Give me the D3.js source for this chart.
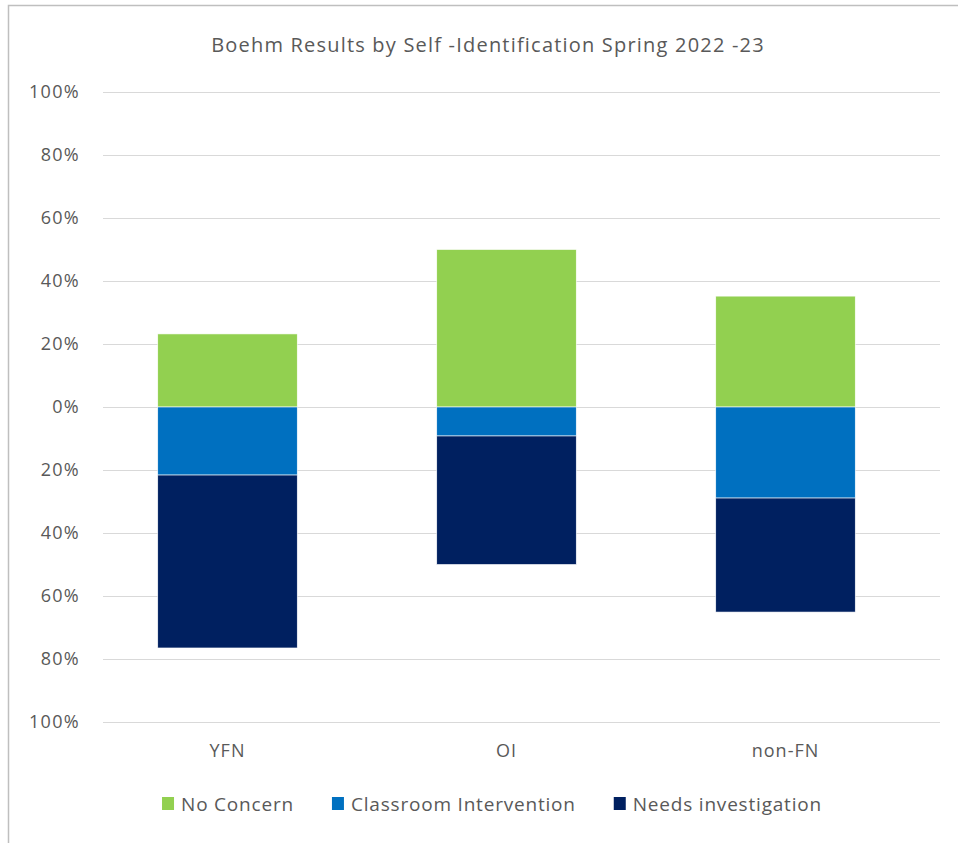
<!DOCTYPE html>
<html>
<head>
<meta charset="utf-8">
<title>Boehm Results</title>
<script src="https://d3js.org/d3.v7.min.js"></script>
<style>
  body { margin: 0; background: #fff; font-family: "Open Sans", "Noto Sans", sans-serif; }
  svg { display: block; }
</style>
</head>
<body>
<script>
// data (percent)
var categories = ["YFN", "OI", "non-FN"];
var seriesNames = ["No Concern", "Classroom Intervention", "Needs investigation"];
var seriesColors = ["#92d050", "#0070c0", "#002060"];
var noConcern = [23.2, 50, 35.2];
var classroomIntervention = [21.6, 9.2, 28.9];
var needsInvestigation = [54.9, 40.8, 36.2];
var tickValues = [100, 80, 60, 40, 20, 0, -20, -40, -60, -80, -100];

var W = 958, H = 843;
var margin = { top: 92, left: 103, right: 18, bottom: 121 };
var textColor = "#595959";

var svg = d3.select("body").append("svg")
    .attr("width", W)
    .attr("height", H);

// chart frame (cropped on right/bottom)
svg.append("rect")
    .attr("x", 8.5).attr("y", 5.5)
    .attr("width", W + 20).attr("height", H + 20)
    .attr("fill", "none")
    .attr("stroke", "#bfbfbf")
    .attr("stroke-width", 1.5);

// band scale: bars centred at ~227, 507, 785
var x = d3.scaleBand()
    .domain(categories)
    .range([88, 925])
    .paddingInner(0.5)
    .paddingOuter(0.25);

var y = d3.scaleLinear()
    .domain([100, -100])
    .range([margin.top, H - margin.bottom]);

// gridlines
svg.append("g")
    .selectAll("line")
    .data(tickValues)
    .enter().append("line")
    .attr("x1", margin.left)
    .attr("x2", W - margin.right)
    .attr("y1", function (d) { return Math.round(y(d)) + 0.5; })
    .attr("y2", function (d) { return Math.round(y(d)) + 0.5; })
    .attr("stroke", "#d9d9d9")
    .attr("stroke-width", 1);

// y axis labels (absolute values)
var yAxis = svg.append("g")
    .attr("transform", "translate(80,0)")
    .call(d3.axisLeft(y).tickValues(tickValues).tickSize(0).tickPadding(0)
        .tickFormat(function (d) { return Math.abs(d) + "%"; }));
yAxis.select(".domain").remove();
yAxis.selectAll("text")
    .attr("fill", textColor)
    .attr("font-size", "18px")
    .attr("letter-spacing", "1.3px")
    .attr("font-family", "'Open Sans', sans-serif");

// x axis labels
var xAxis = svg.append("g")
    .attr("transform", "translate(0," + (y(-100) + 22) + ")")
    .call(d3.axisBottom(x).tickSize(0).tickPadding(0));
xAxis.select(".domain").remove();
xAxis.selectAll("text")
    .attr("fill", textColor)
    .attr("font-size", "18px")
    .attr("letter-spacing", "1px")
    .attr("font-family", "'Open Sans', sans-serif");

// stacked segments: green above zero, blue then navy below zero
var rows = categories.map(function (c, i) {
    return { cat: c, segs: [
        { s: 0, y0: 0, y1: noConcern[i] },
        { s: 1, y0: 0, y1: -classroomIntervention[i] },
        { s: 2, y0: -classroomIntervention[i], y1: -classroomIntervention[i] - needsInvestigation[i] }
    ] };
});

svg.append("g")
    .selectAll("g")
    .data(rows)
    .enter().append("g")
    .selectAll("rect")
    .data(function (d) { return d.segs.map(function (s) { s.cat = d.cat; return s; }); })
    .enter().append("rect")
    .attr("x", function (d) { return x(d.cat); })
    .attr("width", x.bandwidth())
    .attr("y", function (d) { return y(Math.max(d.y0, d.y1)); })
    .attr("height", function (d) { return Math.abs(y(d.y1) - y(d.y0)); })
    .attr("fill", function (d) { return seriesColors[d.s]; })
    .attr("stroke", "#fff")
    .attr("stroke-width", 0.6);

// title
svg.append("text")
    .attr("x", 488)
    .attr("y", 52)
    .attr("text-anchor", "middle")
    .attr("fill", textColor)
    .attr("font-size", "20px")
    .attr("letter-spacing", "1.2px")
    .text("Boehm Results by Self -Identification Spring 2022 -23");

// legend, laid out left to right and centred
var legend = svg.append("g").attr("transform", "translate(0,804)");
var items = legend.selectAll("g")
    .data(seriesNames)
    .enter().append("g");
items.append("rect")
    .attr("y", -7)
    .attr("width", 12).attr("height", 13)
    .attr("fill", function (d, i) { return seriesColors[i]; });
items.append("text")
    .attr("x", 19)
    .attr("dy", "0.35em")
    .attr("fill", textColor)
    .attr("font-size", "19px")
    .attr("letter-spacing", "0.8px")
    .text(function (d) { return d; });

var widths = [];
items.each(function () { widths.push(this.getBBox().width); });
var gap = 38;
var total = d3.sum(widths) + gap * (widths.length - 1);
var pos = 492 - total / 2;
items.attr("transform", function (d, i) {
    var p = pos;
    pos += widths[i] + gap;
    return "translate(" + p + ",0)";
});
</script>
</body>
</html>
